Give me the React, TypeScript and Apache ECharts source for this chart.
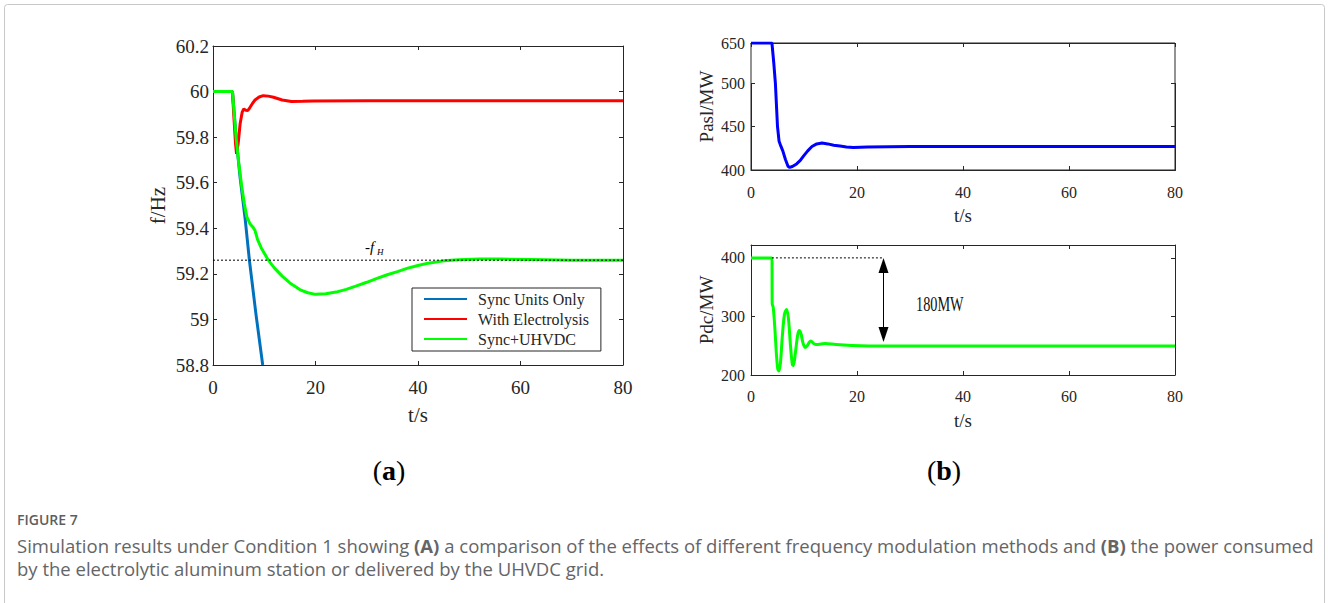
import React, { useEffect, useRef } from 'react';
import * as echarts from 'echarts';

// ---------- data ----------
const timeTicks = [0, 20, 40, 60, 80];
const freqTickLabels = ['60.2', '60', '59.8', '59.6', '59.4', '59.2', '59', '58.8'];
const paslTickLabels = ['400', '450', '500', '650'];
const pdcTickLabels = ['200', '300', '400'];
const seriesNames = ['Sync Units Only', 'With Electrolysis', 'Sync+UHVDC'];

const syncOnlyT = [0, 3.8, 4.5, 5.3, 6.3, 7.1, 8.4, 9.7];
const syncOnlyF = [60, 60, 59.8, 59.62, 59.436, 59.26, 59.02, 58.8];

const electrolysisT = [0, 3.8, 4.1, 4.4, 4.6, 4.9, 5.3, 5.7, 6.0, 6.4, 6.8, 7.2, 7.7, 8.2, 9.0, 9.8, 10.8, 11.8, 13.5, 15.3, 17.5, 19.6, 30, 80];
const electrolysisF = [60, 60, 59.88, 59.77, 59.727, 59.77, 59.86, 59.91, 59.924, 59.918, 59.917, 59.93, 59.948, 59.963, 59.976, 59.982, 59.98, 59.975, 59.963, 59.956, 59.957, 59.959, 59.96, 59.96];

const uhvdcT = [0, 3.8, 4.5, 5.0, 5.6, 6.1, 6.6, 7.2, 7.8, 8.2, 8.7, 9.5, 10.8, 12, 13.5, 15, 17, 18.5, 20, 22, 24, 26, 28, 30, 32, 34, 36, 38, 40, 42, 45, 48, 52, 56, 62, 70, 80];
const uhvdcF = [60, 60, 59.8, 59.69, 59.585, 59.51, 59.45, 59.42, 59.405, 59.39, 59.35, 59.31, 59.26, 59.225, 59.19, 59.16, 59.13, 59.117, 59.11, 59.113, 59.12, 59.132, 59.147, 59.163, 59.18, 59.196, 59.21, 59.225, 59.237, 59.247, 59.257, 59.262, 59.265, 59.265, 59.263, 59.26, 59.26];

const fH = 59.26;

const paslT = [0, 3.95, 4.3, 4.6, 5.0, 5.3, 5.6, 6.0, 6.5, 7.0, 7.3, 7.8, 8.6, 9.3, 9.9, 10.7, 11.5, 12.4, 13.4, 14.5, 15.6, 16.8, 18, 19.3, 22, 30, 80];
const paslP = [650, 650, 575, 500, 450, 433, 428, 422, 412, 404, 403, 404, 407, 411, 416, 422, 427, 430, 431, 430, 428.5, 427.5, 426.5, 426, 426.5, 427, 427];

const pdcT = [0, 3.95, 4.0, 4.2, 4.5, 4.8, 5.05, 5.25, 5.55, 5.9, 6.3, 6.7, 7.05, 7.45, 7.8, 8.0, 8.4, 8.8, 9.1, 9.45, 9.8, 10.2, 10.6, 11.0, 11.3, 11.8, 12.3, 13.2, 14, 16, 19, 25, 80];
const pdcP = [400, 400, 322, 315, 280, 235, 210, 207, 220, 265, 303, 312, 298, 250, 218, 216, 240, 268, 276, 270, 255, 247, 250, 256, 258, 254, 252, 253, 254, 252, 250.5, 249.5, 249.5];

const pdcRefT = [3.95, 25];
const pdcRefP = [400, 400];
const arrowT = 25;
const arrowFrom = 387;
const arrowTo = 269;
const dropLabel = '180MW';

const zip = (t: number[], v: number[]) => t.map((x, i) => [x, v[i]]);

// ---------- styles ----------
const SERIF = '"Liberation Serif", "Times New Roman", serif';
const SANS = '"Open Sans", "Noto Sans", sans-serif';
const AX = '#262626';
const TXT = '#262626';
const CAP = '#646567';

function xAxisDef(gridIndex: number, top: boolean, fs: number, nameFs: number, margin: number, nameGap: number) {
  return {
    type: 'value',
    gridIndex,
    min: 0,
    max: 80,
    interval: 20,
    position: top ? 'top' : 'bottom',
    axisLine: { show: true, onZero: false, lineStyle: { color: AX, width: 1 } },
    axisTick: { show: true, inside: true, length: 4, lineStyle: { color: AX, width: 1 } },
    axisLabel: {
      show: !top,
      margin,
      fontFamily: SERIF,
      fontSize: fs,
      color: TXT,
      formatter: (v: number) => (timeTicks.includes(v) ? String(v) : ''),
    },
    splitLine: { show: false },
    name: top ? '' : 't/s',
    nameLocation: 'middle',
    nameGap,
    nameTextStyle: { fontFamily: SERIF, fontSize: nameFs, color: TXT },
  };
}

function yAxisDef(gridIndex: number, right: boolean, extra: any, labels: string[], fs: number, nameFs: number, name: string, nameGap: number, margin: number) {
  return {
    type: 'value',
    gridIndex,
    position: right ? 'right' : 'left',
    axisLine: { show: true, onZero: false, lineStyle: { color: AX, width: 1 } },
    axisTick: { show: true, inside: true, length: 4, lineStyle: { color: AX, width: 1 } },
    axisLabel: {
      show: !right,
      margin,
      fontFamily: SERIF,
      fontSize: fs,
      color: TXT,
      formatter: (v: any) => {
        const num = typeof v === 'number' ? v : Number(v);
        const s = String(Math.round(num * 1000) / 1000);
        return labels.includes(s) ? s : '';
      },
    },
    splitLine: { show: false },
    name: right ? '' : name,
    nameLocation: 'middle',
    nameGap,
    nameTextStyle: { fontFamily: SERIF, fontSize: nameFs, color: TXT },
    ...extra,
  };
}

const freqExtra = { min: 58.8, max: 60.2, interval: 0.2 };
const paslExtra = {
  min: 400,
  max: 650,
  interval: 50,
  breaks: [{ start: 500, end: 650, gap: 46 }],
  breakArea: { show: false },
};
const pdcExtra = { min: 200, max: 422, interval: 100 };

export default function App() {
  const ref = useRef<HTMLDivElement>(null);
  useEffect(() => {
    if (!ref.current) return;
    const chart = echarts.init(ref.current, undefined, { renderer: 'svg' });
    const option: any = {
      animation: false,
      backgroundColor: '#ffffff',
      grid: [
        { left: 213, top: 46, width: 410, height: 319 },
        { left: 751, top: 43, width: 424, height: 127, show: true, borderColor: AX, borderWidth: 1, backgroundColor: 'transparent' },
        { left: 751, top: 245, width: 424, height: 130 },
      ],
      xAxis: [
        xAxisDef(0, false, 19, 21, 13, 39),
        xAxisDef(0, true, 19, 21, 13, 39),
        xAxisDef(1, false, 16, 19, 14, 36),
        xAxisDef(1, true, 16, 19, 14, 36),
        xAxisDef(2, false, 16, 19, 13, 36),
        xAxisDef(2, true, 16, 19, 13, 36),
      ],
      yAxis: [
        yAxisDef(0, false, freqExtra, freqTickLabels, 19, 21, 'f/Hz', 45, 4),
        yAxisDef(0, true, freqExtra, freqTickLabels, 19, 21, '', 45, 4),
        yAxisDef(1, false, paslExtra, paslTickLabels, 16, 19, 'Pasl/MW', 35, 6),
        yAxisDef(1, true, paslExtra, paslTickLabels, 16, 19, '', 35, 6),
        yAxisDef(2, false, pdcExtra, pdcTickLabels, 16, 19, 'Pdc/MW', 35, 6),
        yAxisDef(2, true, pdcExtra, pdcTickLabels, 16, 19, '', 35, 6),
      ],
      legend: {
        data: seriesNames,
        orient: 'vertical',
        left: 412,
        top: 288,
        itemWidth: 43,
        itemHeight: 14,
        itemGap: 4,
        padding: [3, 12, 4, 11],
        borderColor: AX,
        borderWidth: 1,
        backgroundColor: '#ffffff',
        itemStyle: { opacity: 0 },
        textStyle: { fontFamily: SERIF, fontSize: 16, color: TXT, padding: [0, 0, 0, 6] },
        selectedMode: false,
      },
      series: [
        {
          name: seriesNames[0], type: 'line', xAxisIndex: 0, yAxisIndex: 0, symbol: 'none',
          data: zip(syncOnlyT, syncOnlyF), lineStyle: { color: '#0072BD', width: 3 }, itemStyle: { color: '#0072BD' },
        },
        {
          name: seriesNames[1], type: 'line', xAxisIndex: 0, yAxisIndex: 0, symbol: 'none',
          data: zip(electrolysisT, electrolysisF), lineStyle: { color: '#FF0000', width: 3 }, itemStyle: { color: '#FF0000' },
        },
        {
          name: seriesNames[2], type: 'line', xAxisIndex: 0, yAxisIndex: 0, symbol: 'none',
          data: zip(uhvdcT, uhvdcF), lineStyle: { color: '#00FF00', width: 3 }, itemStyle: { color: '#00FF00' },
        },
        {
          name: 'fH', type: 'line', xAxisIndex: 0, yAxisIndex: 0, symbol: 'none',
          data: [[0, fH], [80, fH]], lineStyle: { color: '#000', width: 1, type: [2, 2] },
        },
        {
          name: 'Pasl', type: 'line', xAxisIndex: 2, yAxisIndex: 2, symbol: 'none',
          data: zip(paslT, paslP), lineStyle: { color: '#0000FF', width: 3 },
        },
        {
          name: 'Pdc', type: 'line', xAxisIndex: 4, yAxisIndex: 4, symbol: 'none', smooth: 0.3,
          data: zip(pdcT, pdcP), lineStyle: { color: '#00FF00', width: 3 },
        },
        {
          name: 'PdcRef', type: 'line', xAxisIndex: 4, yAxisIndex: 4, symbol: 'none',
          data: zip(pdcRefT, pdcRefP), lineStyle: { color: '#000', width: 1, type: [2, 2] },
          markLine: {
            silent: true,
            symbol: ['triangle', 'triangle'],
            symbolSize: [10, 15],
            label: { show: false },
            lineStyle: { color: '#000', width: 1, type: 'solid' },
            itemStyle: { color: '#000' },
            data: [[{ coord: [arrowT, arrowFrom] }, { coord: [arrowT, arrowTo] }]],
          },
        },
      ],
      graphic: [
        {
          type: 'rect', silent: true, z: -10,
          shape: { x: 4.5, y: 4.5, width: 1320, height: 640, r: 3 },
          style: { fill: 'none', stroke: '#c8c8c8', lineWidth: 1 },
        },
        {
          type: 'text', x: 365, y: 239,
          style: { text: '-f', fontFamily: SERIF, fontSize: 15, fontStyle: 'italic', fill: '#000' },
        },
        {
          type: 'text', x: 377, y: 247,
          style: { text: 'H', fontFamily: SERIF, fontSize: 9, fontStyle: 'italic', fill: '#000' },
        },
        {
          type: 'text', x: 916, y: 293, scaleX: 0.68,
          style: { text: dropLabel, fontFamily: SERIF, fontSize: 21, fill: '#111' },
        },
        {
          type: 'text', x: 389, y: 470,
          style: {
            text: '({b|a})', fontFamily: SERIF, fontSize: 28, fill: '#000', align: 'center', verticalAlign: 'middle',
            rich: { b: { fontFamily: SERIF, fontSize: 28, fontWeight: 'bold', fill: '#000' } },
          },
        },
        {
          type: 'text', x: 944, y: 470,
          style: {
            text: '({b|b})', fontFamily: SERIF, fontSize: 28, fill: '#000', align: 'center', verticalAlign: 'middle',
            rich: { b: { fontFamily: SERIF, fontSize: 28, fontWeight: 'bold', fill: '#000' } },
          },
        },
        {
          type: 'text', x: 17, y: 519,
          style: { text: 'FIGURE 7', fontFamily: SANS, fontSize: 14, fontWeight: 600, fill: '#5d5e60', verticalAlign: 'middle' },
        },
        {
          type: 'text', x: 17, y: 545,
          style: {
            text: 'Simulation results under Condition 1 showing {b|(A)} a comparison of the effects of different frequency modulation methods and {b|(B)} the power consumed',
            fontFamily: SANS, fontSize: 18.5, fill: CAP, verticalAlign: 'middle',
            rich: { b: { fontFamily: SANS, fontSize: 18.5, fontWeight: 'bold', fill: CAP } },
          },
        },
        {
          type: 'text', x: 17, y: 568,
          style: {
            text: 'by the electrolytic aluminum station or delivered by the UHVDC grid.',
            fontFamily: SANS, fontSize: 18.5, fill: CAP, verticalAlign: 'middle',
          },
        },
      ],
    };
    chart.setOption(option);
    return () => chart.dispose();
  }, []);
  return (
    <div
      ref={ref}
      style={{ position: 'absolute', left: 0, top: 0, width: 1328, height: 603, background: '#fff' }}
    />
  );
}
